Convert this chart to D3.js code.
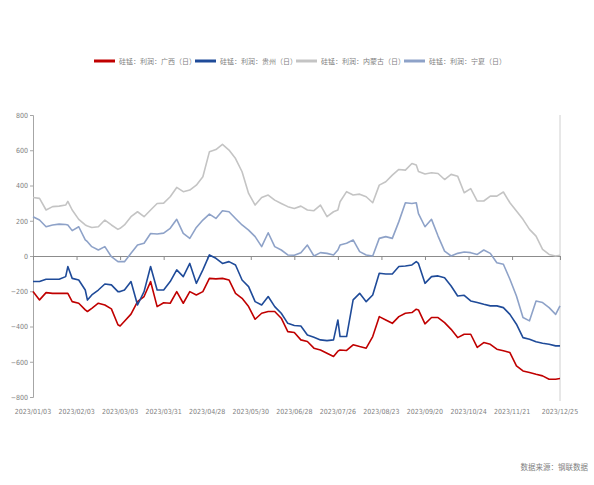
<!DOCTYPE html>
<html>
<head>
<meta charset="utf-8">
<script src="https://cdn.jsdelivr.net/npm/d3@7"></script>
<style>
  body { margin: 0; background: #fff; }
  text { font-family: "Liberation Sans Narrow", "DejaVu Sans Condensed", "Noto Sans CJK SC", sans-serif; }
</style>
</head>
<body>
<svg id="chart"></svg>
<script>
var width = 594,
    height = 485

// 交易日序号（0 = 2023/01/03）
var days = [0, 3, 6, 9, 12, 15, 16, 18, 21, 24, 25, 27, 30, 33, 36, 39, 40, 42, 45, 48, 51, 54, 57, 60,
    63, 66, 69, 72, 75, 78, 81, 84, 87, 90, 93, 96, 99, 102, 105, 108, 111, 114, 117, 120,
    123, 126, 129, 132, 135, 138, 140, 141, 144, 147, 150, 153, 156, 159, 162, 165, 168, 171, 174, 176, 177,
    180, 183, 186, 189, 192, 195, 198, 201, 204, 207, 210, 213, 216, 219, 222, 225, 228, 231, 234, 237, 240, 242]

var guangxi = [-202, -249, -208, -212, -212, -212, -212, -259, -268, -306, -315, -297, -268, -278, -300, -390, -397, -370, -330, -259, -230, -145, -287, -265,
    -268, -202, -268, -202, -221, -202, -127, -130, -127, -136, -212, -240, -287, -359, -325, -315, -315, -353, -429, -434,
    -476, -485, -523, -533, -552, -570, -540, -533, -536, -504, -514, -523, -457, -344, -363, -382, -344, -325, -321, -302, -306,
    -385, -349, -349, -378, -416, -463, -444, -444, -519, -491, -501, -529, -538, -548, -623, -652, -661, -671, -680, -699, -699, -695]

var guizhou = [-145, -145, -132, -132, -132, -117, -60, -127, -136, -193, -250, -221, -193, -159, -164, -202, -202, -193, -145, -278, -202, -60, -193, -193,
    -145, -79, -117, -42, -155, -79, 6, -13, -42, -32, -51, -136, -174, -259, -278, -230, -287, -325, -382, -394,
    -397, -448, -461, -476, -480, -476, -363, -457, -457, -249, -212, -259, -221, -98, -102, -102, -60, -57, -51, -32, -42,
    -155, -117, -113, -123, -170, -227, -223, -255, -264, -274, -283, -283, -293, -331, -387, -463, -472, -487, -495, -501, -510, -510]

var neimenggu = [332, 327, 261, 280, 283, 289, 310, 261, 208, 176, 170, 162, 166, 204, 176, 151, 157, 176, 223, 251, 223, 261, 298, 300,
    336, 389, 365, 374, 402, 450, 591, 604, 633, 601, 553, 478, 355, 289, 332, 346, 317, 298, 280, 270,
    283, 261, 257, 289, 223, 251, 261, 308, 365, 346, 351, 336, 302, 402, 421, 459, 491, 487, 525, 516, 480,
    465, 472, 468, 434, 463, 453, 359, 382, 312, 312, 340, 340, 363, 302, 255, 208, 151, 113, 38, 9, 0, 4]

var ningxia = [223, 204, 166, 176, 181, 179, 176, 144, 166, 91, 81, 53, 34, 53, -4, -32, -32, -32, 15, 62, 72, 128, 125, 130,
    157, 208, 128, 100, 162, 204, 238, 213, 257, 251, 213, 176, 147, 110, 53, 132, 53, 34, 6, 4,
    19, 62, 0, 19, 15, 6, 34, 62, 72, 91, 25, 6, 0, 100, 110, 100, 195, 302, 298, 302, 240,
    166, 208, 113, 28, 0, 15, 23, 19, 9, 34, 15, -38, -47, -132, -227, -349, -368, -255, -264, -293, -331, -283]

var tickDays = [0, 20, 40, 60, 80, 100, 120, 140, 160, 180, 200, 220, 242]
var tickLabels = ["2023/01/03", "2023/02/03", "2023/03/03", "2023/03/31", "2023/04/28", "2023/05/30", "2023/06/28",
    "2023/07/26", "2023/08/23", "2023/09/20", "2023/10/24", "2023/11/21", "2023/12/25"]
var yTicks = [800, 600, 400, 200, 0, -200, -400, -600, -800]

var seriesNames = ["硅锰：利润：广西（日）", "硅锰：利润：贵州（日）", "硅锰：利润：内蒙古（日）", "硅锰：利润：宁夏（日）"]
var seriesValues = [guangxi, guizhou, neimenggu, ningxia]
var seriesColors = ["#c00000", "#1f4b99", "#c4c4c4", "#8ea2c8"]
var legendX = [94, 195, 296, 404]

var svg = d3.select("#chart")
    .attr("width", width)
    .attr("height", height)

var x = d3.scaleLinear().domain([0, 242]).range([33, 560])
var y = d3.scaleLinear().domain([-800, 800]).range([397, 115])

// 左侧纵轴
var yAxis = svg.append("g")
    .attr("transform", "translate(33,0)")
    .call(d3.axisLeft(y).tickValues(yTicks).tickSize(3).tickPadding(2).tickFormat(d3.format("d")))
yAxis.select(".domain").attr("stroke", "#a6a6a6")
yAxis.selectAll(".tick line").attr("stroke", "#a6a6a6")
yAxis.selectAll("text")
    .attr("fill", "#7f7f7f")
    .style("font-size", "7px")

// 右侧边线
svg.append("line")
    .attr("x1", 560).attr("x2", 560)
    .attr("y1", 115).attr("y2", 401)
    .attr("stroke", "#d0d0d0")
    .attr("stroke-width", 1)

// 零线 + 刻度
var xAxis = svg.append("g")
    .attr("transform", "translate(0," + y(0) + ")")
    .call(d3.axisBottom(x).tickValues(tickDays).tickSize(4).tickSizeOuter(0).tickFormat(""))
xAxis.select(".domain").attr("stroke", "#8c8c8c").attr("stroke-width", 1.2)
xAxis.selectAll(".tick line").attr("stroke", "#8c8c8c")

// 日期标签
svg.append("g")
    .selectAll("text")
    .data(tickDays)
    .enter().append("text")
    .attr("x", function (d) {
        return x(d)
    })
    .attr("y", 414)
    .attr("text-anchor", "middle")
    .attr("fill", "#7f7f7f")
    .style("font-size", "7px")
    .text(function (d, i) {
        return tickLabels[i]
    })

// 折线
var line = d3.line()
    .x(function (d, i) {
        return x(days[i])
    })
    .y(function (d) {
        return y(d)
    })

svg.append("g")
    .selectAll("path")
    .data(seriesValues)
    .enter().append("path")
    .attr("d", line)
    .attr("fill", "none")
    .attr("stroke", function (d, i) {
        return seriesColors[i]
    })
    .attr("stroke-width", 1.6)
    .attr("stroke-linejoin", "round")

// 图例
var legend = svg.append("g")
    .selectAll("g")
    .data(seriesNames)
    .enter().append("g")
    .attr("transform", function (d, i) {
        return "translate(" + legendX[i] + ",61)"
    })
legend.append("line")
    .attr("x1", 0).attr("x2", 21)
    .attr("y1", 0).attr("y2", 0)
    .attr("stroke", function (d, i) {
        return seriesColors[i]
    })
    .attr("stroke-width", 3)
legend.append("text")
    .attr("x", 25)
    .attr("y", 3)
    .attr("fill", "#7f7f7f")
    .style("font-family", "'Noto Sans CJK SC', sans-serif")
    .style("font-size", "7px")
    .text(function (d) {
        return d
    })

// 数据来源
svg.append("text")
    .attr("x", 588)
    .attr("y", 470)
    .attr("text-anchor", "end")
    .attr("fill", "#7f7f7f")
    .style("font-family", "'Noto Sans CJK SC', sans-serif")
    .style("font-size", "7.5px")
    .text("数据来源：钢联数据")
</script>
</body>
</html>
